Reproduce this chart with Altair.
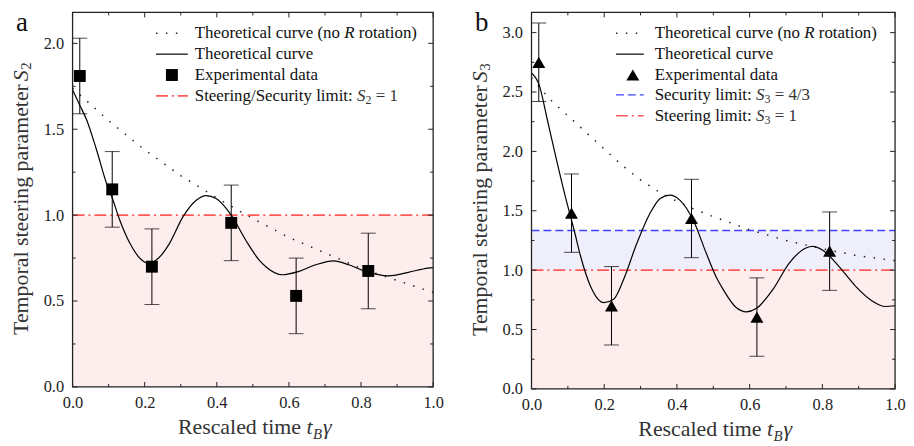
import altair as alt
import pandas as pd

FONT = "Liberation Serif"

# ---------------- values ----------------
# panel a  (S2)
a_exp_t = [0.02, 0.11, 0.22, 0.44, 0.62, 0.82]
a_exp_s = [1.81, 1.15, 0.70, 0.955, 0.53, 0.675]
a_exp_err = [0.22, 0.22, 0.22, 0.22, 0.22, 0.22]
a_theory_t = [0.0, 0.02, 0.04, 0.067, 0.095, 0.109, 0.131, 0.159, 0.191, 0.21, 0.233,
              0.269, 0.306, 0.343, 0.37, 0.398, 0.44, 0.48, 0.517, 0.536, 0.582, 0.628,
              0.674, 0.724, 0.766, 0.812, 0.876, 0.931, 0.986, 1.0]
a_theory_s = [1.73, 1.64, 1.55, 1.376, 1.18, 1.106, 0.97, 0.836, 0.74, 0.72, 0.74,
              0.836, 0.99, 1.087, 1.114, 1.097, 1.0, 0.855, 0.74, 0.70, 0.653, 0.673,
              0.711, 0.734, 0.711, 0.673, 0.647, 0.667, 0.692, 0.695]
a_norot_t = [0.0, 0.1, 0.2, 0.3, 0.4, 0.5, 0.6, 0.7, 0.8, 0.9, 1.0]
a_norot_s = [1.74, 1.55, 1.38, 1.23, 1.10, 0.98, 0.87, 0.78, 0.69, 0.62, 0.55]
a_band_lo = [0.0]
a_band_hi = [1.0]
a_band_color = ["#fdeeed"]
a_red_limit = [1.0]

# panel b  (S3)
b_exp_t = [0.02, 0.11, 0.22, 0.44, 0.62, 0.82]
b_exp_s = [2.75, 1.48, 0.70, 1.435, 0.605, 1.16]
b_exp_err = [0.33, 0.33, 0.33, 0.33, 0.33, 0.33]
b_theory_t = [0.0, 0.021, 0.044, 0.071, 0.098, 0.117, 0.135, 0.162, 0.199, 0.226, 0.253,
              0.29, 0.326, 0.354, 0.381, 0.408, 0.445, 0.481, 0.509, 0.527, 0.563, 0.591,
              0.618, 0.664, 0.709, 0.755, 0.773, 0.80, 0.846, 0.891, 0.937, 0.973, 1.0]
b_theory_s = [2.66, 2.56, 2.26, 1.90, 1.56, 1.34, 1.117, 0.867, 0.727, 0.755, 0.92,
              1.228, 1.479, 1.604, 1.632, 1.59, 1.42, 1.14, 0.936, 0.838, 0.685, 0.649,
              0.677, 0.838, 1.06, 1.187, 1.20, 1.17, 1.03, 0.866, 0.741, 0.694, 0.70]
b_norot_t = [0.0, 0.05, 0.1, 0.15, 0.2, 0.25, 0.3, 0.35, 0.4, 0.45, 0.5, 0.6, 0.7, 0.8, 0.9, 1.0]
b_norot_s = [2.62, 2.44, 2.30, 2.16, 2.02, 1.88, 1.76, 1.66, 1.58, 1.51, 1.45, 1.34, 1.25, 1.18, 1.12, 1.08]
b_band_lo = [0.0, 1.0]
b_band_hi = [1.0, 4 / 3]
b_band_color = ["#fdeeed", "#efeffb"]
b_red_limit = [1.0]
b_blue_limit = [4 / 3]

# axes
x_major = [0.0, 0.2, 0.4, 0.6, 0.8, 1.0]
x_minor = [0.1, 0.3, 0.5, 0.7, 0.9]
a_y_major = [0.0, 0.5, 1.0, 1.5, 2.0]
a_y_minor = [0.25, 0.75, 1.25, 1.75]
b_y_major = [0.0, 0.5, 1.0, 1.5, 2.0, 2.5, 3.0]
b_y_minor = [0.25, 0.75, 1.25, 1.75, 2.25, 2.75]
x_domain = [0.0, 1.0]

RED = "#ff5a5a"
BLUE = "#4040ff"
ONE = pd.DataFrame({"k": [0]})
TS = 22  # axis title font size


def txt(t, x, y, size=17, style="normal", align="left", baseline="middle",
        angle=0, color="#111", dx=0, dy=0):
    return alt.Chart(ONE).mark_text(
        text=t, font=FONT, fontSize=size, fontStyle=style, align=align,
        baseline=baseline, angle=angle, color=color, dx=dx, dy=dy
    ).encode(x=alt.value(x), y=alt.value(y))


def sample_line(x1, x2, y, color, dash, width):
    m = dict(color=color, strokeWidth=width)
    if dash:
        m["strokeDash"] = dash
    return alt.Chart(ONE).mark_rule(**m).encode(
        x=alt.value(x1), x2=alt.value(x2), y=alt.value(y))


def panel(W, H, ymax, exp_t, exp_s, exp_err, th_t, th_s, nr_t, nr_s,
          y_major, y_minor, band_lo, band_hi, band_color, red_lim, blue_lim,
          shape, msize, legend, letter, sub):
    xs = alt.Scale(domain=x_domain, nice=False, zero=False)
    ys = alt.Scale(domain=[0, ymax], nice=False, zero=False)
    AX = alt.Axis(values=x_major, format=".1f", ticks=False, domain=False, grid=False,
                  labelFont=FONT, labelFontSize=16.5, labelColor="#222", labelPadding=8,
                  labelFlush=False, labelOverlap=False, title=None)
    AY = alt.Axis(values=y_major, format=".1f", ticks=False, domain=False, grid=False,
                  labelFont=FONT, labelFontSize=16.5, labelColor="#222", labelPadding=9,
                  labelFlush=False, labelOverlap=False, title=None)

    def X(f):
        return alt.X(f + ":Q", scale=xs, axis=AX)

    def Y(f):
        return alt.Y(f + ":Q", scale=ys, axis=AY)

    layers = []
    nb = len(band_lo)
    bands = pd.DataFrame({"x": [x_domain[0]] * nb, "x2": [x_domain[1]] * nb,
                          "y": band_lo, "y2": band_hi, "c": band_color})
    layers.append(alt.Chart(bands).mark_rect().encode(
        x=X("x"), x2="x2", y=Y("y"), y2="y2", color=alt.Color("c:N", scale=None)))

    if blue_lim:
        d = pd.DataFrame({"x": [x_domain[0]], "x2": [x_domain[1]], "y": blue_lim})
        layers.append(alt.Chart(d).mark_rule(color=BLUE, strokeWidth=1.4, strokeDash=[8, 4]).encode(
            x=X("x"), x2="x2", y=Y("y")))
    d = pd.DataFrame({"x": [x_domain[0]], "x2": [x_domain[1]], "y": red_lim})
    layers.append(alt.Chart(d).mark_rule(color=RED, strokeWidth=1.6, strokeDash=[12, 4, 2, 4]).encode(
        x=X("x"), x2="x2", y=Y("y")))

    layers.append(alt.Chart(pd.DataFrame({"x": nr_t, "y": nr_s})).mark_line(
        color="#222", strokeWidth=1.5, strokeDash=[1.5, 8.5]).encode(x=X("x"), y=Y("y")))
    layers.append(alt.Chart(pd.DataFrame({"x": th_t, "y": th_s})).mark_line(
        color="black", strokeWidth=1.2, interpolate="monotone").encode(x=X("x"), y=Y("y")))

    ed = pd.DataFrame({"x": exp_t, "y": exp_s, "e": exp_err})
    ed["lo"] = ed["y"] - ed["e"]
    ed["hi"] = ed["y"] + ed["e"]
    eb = alt.Chart(ed)
    layers.append(eb.mark_rule(color="black", strokeWidth=1).encode(x=X("x"), y=Y("lo"), y2="hi"))
    layers.append(eb.mark_tick(orient="horizontal", size=15, thickness=1, color="black").encode(
        x=X("x"), y=Y("lo")))
    layers.append(eb.mark_tick(orient="horizontal", size=15, thickness=1, color="black").encode(
        x=X("x"), y=Y("hi")))
    layers.append(eb.mark_point(shape=shape, filled=True, size=msize, color="black", opacity=1).encode(
        x=X("x"), y=Y("y")))

    # inward ticks on all four sides
    for vals, ln in ((x_major, 5), (x_minor, 3)):
        c = alt.Chart(pd.DataFrame({"x": vals})).mark_rule(color="#222", strokeWidth=1)
        layers.append(c.encode(x=X("x"), y=alt.value(H), y2=alt.value(H - ln)))
        layers.append(c.encode(x=X("x"), y=alt.value(0), y2=alt.value(ln)))
    for vals, ln in ((y_major, 5), (y_minor, 3)):
        c = alt.Chart(pd.DataFrame({"y": vals})).mark_rule(color="#222", strokeWidth=1)
        layers.append(c.encode(y=Y("y"), x=alt.value(0), x2=alt.value(ln)))
        layers.append(c.encode(y=Y("y"), x=alt.value(W), x2=alt.value(W - ln)))

    # frame
    layers.append(alt.Chart(ONE).mark_rect(fillOpacity=0, stroke="#222", strokeWidth=1.3).encode(
        x=alt.value(0), x2=alt.value(W), y=alt.value(0), y2=alt.value(H)))

    # legend
    lx1, lx2, lm, lt = legend["x1"], legend["x2"], legend["xm"], legend["xt"]
    for kind, y, parts in legend["rows"]:
        if kind == "dot":
            layers.append(sample_line(lx1, lx2 - 6, y, "#222", [1.5, 8.5], 1.5))
        elif kind == "solid":
            layers.append(sample_line(lx1, lx2, y, "black", None, 1.2))
        elif kind == "marker":
            layers.append(alt.Chart(ONE).mark_point(shape=shape, filled=True, size=msize,
                                                    color="black", opacity=1).encode(
                x=alt.value(lm), y=alt.value(y)))
        elif kind == "red":
            layers.append(sample_line(lx1, lx2, y, RED, [12, 4, 2, 4], 1.6))
        elif kind == "blue":
            layers.append(sample_line(lx1, lx2, y, BLUE, [8, 4], 1.4))
        for (t, off, style, size, dy, col) in parts:
            layers.append(txt(t, lt + off, y, size=size, style=style, dy=dy, color=col))

    # panel letter
    layers.append(txt(letter, -57, 19, size=27, baseline="alphabetic", color="#111"))

    # y title
    main_w = 11.552 * TS
    total = main_w + 3 + 0.5 * TS + 0.5 * 15
    ya = H / 2 + total / 2 - main_w
    layers.append(txt("Temporal steering parameter", -52, ya, size=TS, align="right",
                      angle=270, color="#333"))
    layers.append(txt("S", -52, ya, size=TS, style="italic", align="left", angle=270,
                      dx=3, color="#333"))
    layers.append(txt(sub, -52, ya, size=15, align="left", angle=270, dx=3 + 0.5 * TS + 0.5,
                      dy=5, color="#333"))

    # x title
    xa = W / 2 + 54
    yb = H + 47
    layers.append(txt("Rescaled time", xa - 0.25 * TS, yb, size=TS, align="right",
                      baseline="alphabetic", color="#333"))
    layers.append(txt("t", xa, yb, size=TS, style="italic", baseline="alphabetic", color="#333"))
    layers.append(txt("B", xa + 0.278 * TS + 0.5, yb + 5, size=15, style="italic",
                      baseline="alphabetic", color="#333"))
    layers.append(txt("γ", xa + 0.278 * TS + 10.5, yb, size=TS, style="italic",
                      baseline="alphabetic", color="#333"))

    return alt.layer(*layers).properties(width=W, height=H)


N = "normal"
I = "italic"
K = "#111"
G = "#333"
FS = 17
legend_a = {
    "x1": 84, "x2": 116, "xm": 100, "xt": 123,
    "rows": [
        ("dot", 21, [("Theoretical curve (no", 0, N, FS, 0, K), ("R", 150.6, I, FS, 0, K),
                     ("rotation)", 165.2, N, FS, 0, K)]),
        ("solid", 42, [("Theoretical curve", 0, N, FS, 0, K)]),
        ("marker", 63, [("Experimental data", 0, N, FS, 0, K)]),
        ("red", 84, [("Steering/Security limit:", 0, N, FS, 0, K), ("S", 163.4, I, FS, 0, G),
                     ("2", 171.9, N, 12, 4, G), ("= 1", 182.2, N, FS, 0, G)]),
    ],
}
legend_b = {
    "x1": 85, "x2": 113, "xm": 102, "xt": 124,
    "rows": [
        ("dot", 21, [("Theoretical curve (no", 0, N, FS, 0, K), ("R", 150.6, I, FS, 0, K),
                     ("rotation)", 165.2, N, FS, 0, K)]),
        ("solid", 42, [("Theoretical curve", 0, N, FS, 0, K)]),
        ("marker", 63, [("Experimental data", 0, N, FS, 0, K)]),
        ("blue", 83, [("Security limit:", 0, N, FS, 0, K), ("S", 102, I, FS, 0, G),
                      ("3", 110.5, N, 12, 4, G), ("= 4/3", 120.8, N, FS, 0, G)]),
        ("red", 104, [("Steering limit:", 0, N, FS, 0, K), ("S", 102, I, FS, 0, G),
                      ("3", 110.5, N, 12, 4, G), ("= 1", 120.8, N, FS, 0, G)]),
    ],
}

pa = panel(363, 377, 2.18, a_exp_t, a_exp_s, a_exp_err, a_theory_t, a_theory_s,
           a_norot_t, a_norot_s, a_y_major, a_y_minor, a_band_lo, a_band_hi, a_band_color,
           a_red_limit, None, "square", 144, legend_a, "a", "2")
pb = panel(366, 379, 3.17, b_exp_t, b_exp_s, b_exp_err, b_theory_t, b_theory_s,
           b_norot_t, b_norot_s, b_y_major, b_y_minor, b_band_lo, b_band_hi, b_band_color,
           b_red_limit, b_blue_limit, "triangle-up", 170, legend_b, "b", "3")

chart = alt.hconcat(pa, pb, spacing=99, bounds="flush").properties(
    padding={"left": 2, "top": 0, "right": 0, "bottom": 0}
).configure_view(stroke=None)

chart.save("out.html", embed_options={"renderer": "svg", "actions": False})
